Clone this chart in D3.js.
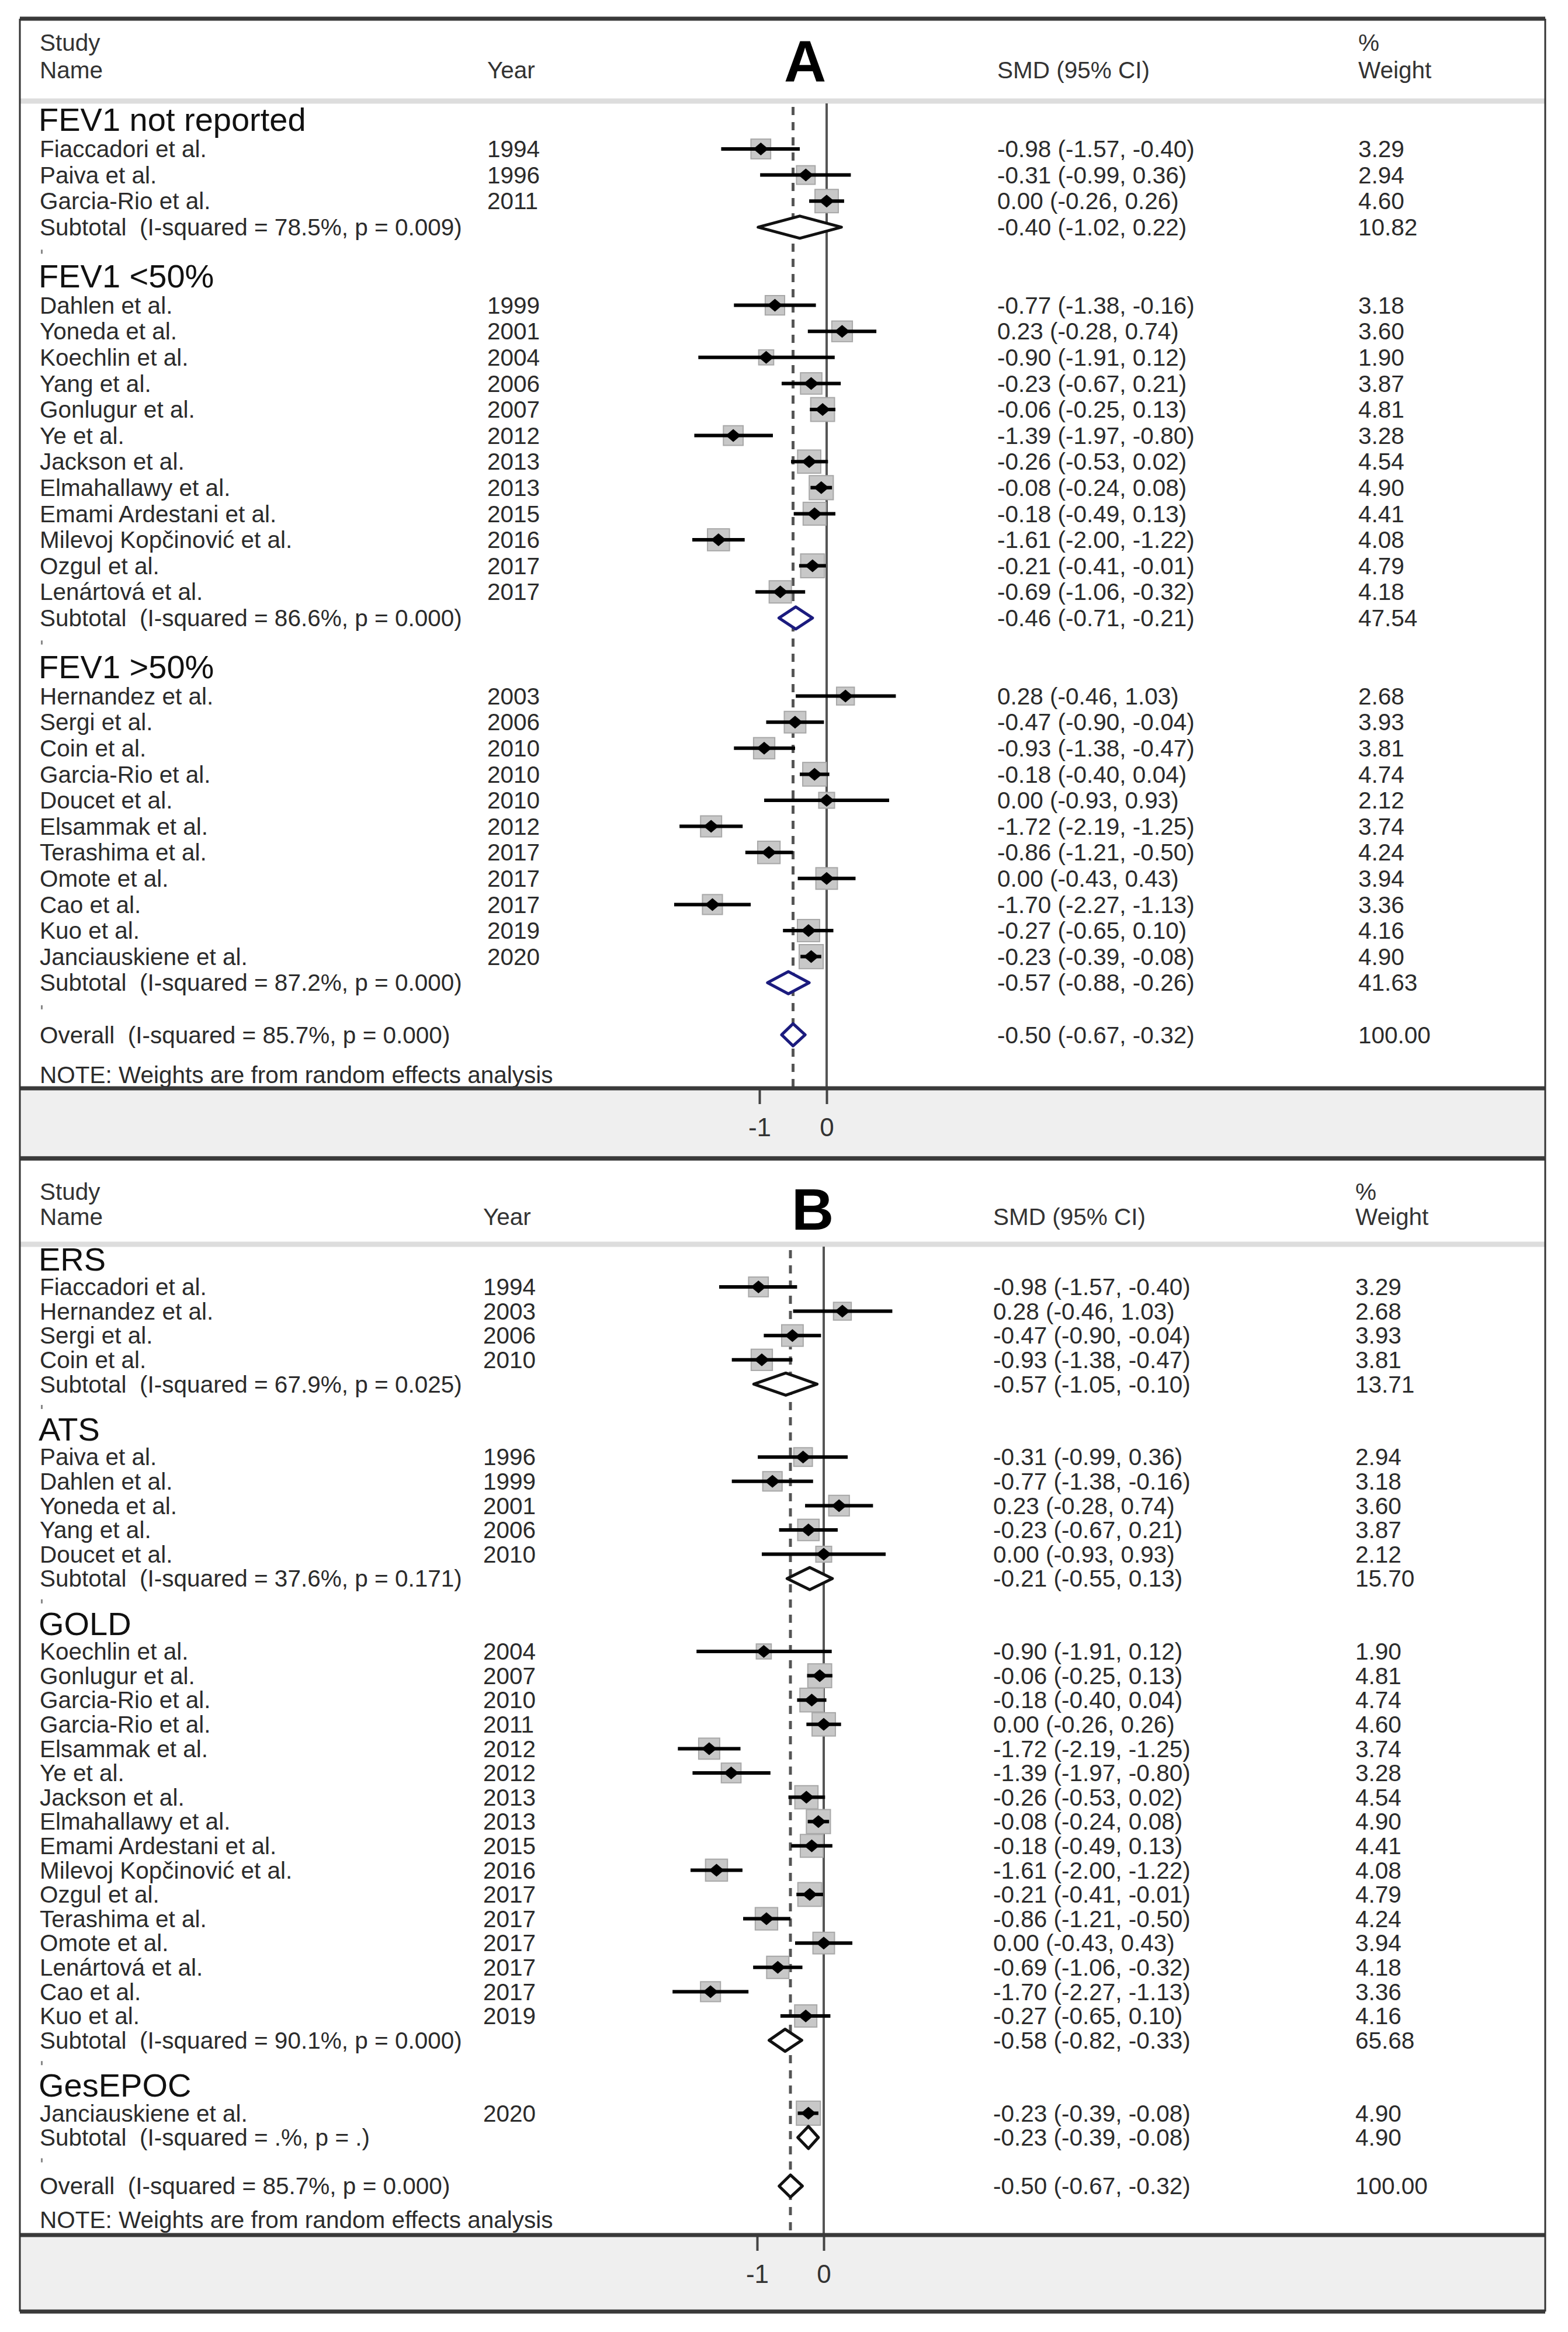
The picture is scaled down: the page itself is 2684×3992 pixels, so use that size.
<!DOCTYPE html>
<html>
<head>
<meta charset="utf-8">
<script src="https://cdn.jsdelivr.net/npm/d3@7"></script>
<style>
  body { margin: 0; background: #fff; }
  text { font-family: "Liberation Sans", Arial, sans-serif; white-space: pre; }
</style>
</head>
<body>
<div id="chart"></div>
<script>
// ---- study level data (SMD, 95% CI, % weight) ----
var studyNames = ["Fiaccadori et al.", "Paiva et al.", "Garcia-Rio et al.", "Dahlen et al.", "Yoneda et al.",
    "Koechlin et al.", "Yang et al.", "Gonlugur et al.", "Ye et al.", "Jackson et al.", "Elmahallawy et al.",
    "Emami Ardestani et al.", "Milevoj Kopčinović et al.", "Ozgul et al.", "Lenártová et al.", "Hernandez et al.",
    "Sergi et al.", "Coin et al.", "Garcia-Rio et al.", "Doucet et al.", "Elsammak et al.", "Terashima et al.",
    "Omote et al.", "Cao et al.", "Kuo et al.", "Janciauskiene et al."];
var studyYears = [1994, 1996, 2011, 1999, 2001, 2004, 2006, 2007, 2012, 2013, 2013, 2015, 2016, 2017, 2017,
    2003, 2006, 2010, 2010, 2010, 2012, 2017, 2017, 2017, 2019, 2020];
var studySMD = [-0.98, -0.31, 0.00, -0.77, 0.23, -0.90, -0.23, -0.06, -1.39, -0.26, -0.08, -0.18, -1.61, -0.21, -0.69,
    0.28, -0.47, -0.93, -0.18, 0.00, -1.72, -0.86, 0.00, -1.70, -0.27, -0.23];
var studyLow = [-1.57, -0.99, -0.26, -1.38, -0.28, -1.91, -0.67, -0.25, -1.97, -0.53, -0.24, -0.49, -2.00, -0.41, -1.06,
    -0.46, -0.90, -1.38, -0.40, -0.93, -2.19, -1.21, -0.43, -2.27, -0.65, -0.39];
var studyHigh = [-0.40, 0.36, 0.26, -0.16, 0.74, 0.12, 0.21, 0.13, -0.80, 0.02, 0.08, 0.13, -1.22, -0.01, -0.32,
    1.03, -0.04, -0.47, 0.04, 0.93, -1.25, -0.50, 0.43, -1.13, 0.10, -0.08];
var studyWeight = [3.29, 2.94, 4.60, 3.18, 3.60, 1.90, 3.87, 4.81, 3.28, 4.54, 4.90, 4.41, 4.08, 4.79, 4.18,
    2.68, 3.93, 3.81, 4.74, 2.12, 3.74, 4.24, 3.94, 3.36, 4.16, 4.90];

// ---- panel A: subgroups by FEV1 ----
var groupsA = ["FEV1 not reported", "FEV1 <50%", "FEV1 >50%"];
var membersA = [[0, 1, 2], [3, 4, 5, 6, 7, 8, 9, 10, 11, 12, 13, 14], [15, 16, 17, 18, 19, 20, 21, 22, 23, 24, 25]];
var subLabelsA = ["Subtotal  (I-squared = 78.5%, p = 0.009)", "Subtotal  (I-squared = 86.6%, p = 0.000)",
    "Subtotal  (I-squared = 87.2%, p = 0.000)"];
var subSMDA = [-0.40, -0.46, -0.57];
var subLowA = [-1.02, -0.71, -0.88];
var subHighA = [0.22, -0.21, -0.26];
var subWeightA = [10.82, 47.54, 41.63];

// ---- panel B: subgroups by definition ----
var groupsB = ["ERS", "ATS", "GOLD", "GesEPOC"];
var membersB = [[0, 15, 16, 17], [1, 3, 4, 6, 19], [5, 7, 18, 2, 20, 8, 9, 10, 11, 12, 13, 21, 22, 14, 23, 24], [25]];
var subLabelsB = ["Subtotal  (I-squared = 67.9%, p = 0.025)", "Subtotal  (I-squared = 37.6%, p = 0.171)",
    "Subtotal  (I-squared = 90.1%, p = 0.000)", "Subtotal  (I-squared = .%, p = .)"];
var subSMDB = [-0.57, -0.21, -0.58, -0.23];
var subLowB = [-1.05, -0.55, -0.82, -0.39];
var subHighB = [-0.10, 0.13, -0.33, -0.08];
var subWeightB = [13.71, 15.70, 65.68, 4.90];

// ---- overall ----
var overallLabel = "Overall  (I-squared = 85.7%, p = 0.000)";
var overallSMD = -0.50, overallLow = -0.67, overallHigh = -0.32, overallWeight = 100.00;
var axisTicks = [-1, 0];
var noteText = "NOTE: Weights are from random effects analysis";

var W = 2684, H = 3992;
var left = 34, right = 2645;
var navy = "#1b1b7e";
var rowFont = 40.5;

var svg = d3.select("#chart").append("svg")
    .attr("width", W)
    .attr("height", H)
    .style("display", "block");

function ciText(m, l, h) {
    return m.toFixed(2) + " (" + l.toFixed(2) + ", " + h.toFixed(2) + ")";
}

function diamond(x, yc, m, l, h, hh) {
    return "M" + x(l) + "," + yc + "L" + x(m) + "," + (yc - hh) + "L" + x(h) + "," + yc +
        "L" + x(m) + "," + (yc + hh) + "Z";
}

function drawPanel(p) {
    var g = svg.append("g");

    // build the row list
    var rows = [];
    var idx = 0;
    p.groups.forEach(function(name, gi) {
        rows.push({type: "head", label: name, i: idx++});
        p.members[gi].forEach(function(s) {
            rows.push({type: "study", s: s, i: idx++});
        });
        rows.push({type: "sub", gi: gi, i: idx++});
        rows.push({type: "blank", i: idx++});
    });
    rows.push({type: "overall", i: idx});

    var x = d3.scaleLinear().domain([-1, 0]).range([p.x0 - p.unit, p.x0]);
    var y = d3.scaleLinear().domain([1, 2]).range([p.y1, p.y1 + p.step]);

    // grey band under the plot
    g.append("rect").attr("x", left).attr("y", p.plotBottom)
        .attr("width", right - left).attr("height", p.bottom - p.plotBottom)
        .attr("fill", "#efefef");

    // header separator
    g.append("line").attr("x1", left).attr("x2", right)
        .attr("y1", p.sep).attr("y2", p.sep)
        .attr("stroke", "#dddddd").attr("stroke-width", 9);

    // header texts
    function htext(t, tx, ty) {
        g.append("text").attr("x", tx).attr("y", ty).attr("dy", "0.35em")
            .attr("font-size", rowFont).attr("fill", "#333").text(t);
    }
    htext("Study", 68, p.h1);
    htext("Name", 68, p.h2);
    htext("Year", p.yearX, p.h2);
    htext("SMD (95% CI)", p.smdX, p.h2);
    htext("%", p.wX, p.h1);
    htext("Weight", p.wX, p.h2);
    g.append("text").attr("x", p.letterX).attr("y", p.letterY)
        .attr("text-anchor", "middle").attr("font-size", 100).attr("font-weight", "bold")
        .attr("fill", "#000").text(p.letter);

    // zero line and overall dashed line
    g.append("line").attr("x1", x(0)).attr("x2", x(0))
        .attr("y1", p.sep + 4).attr("y2", p.plotBottom)
        .attr("stroke", "#555").attr("stroke-width", 4);
    g.append("line").attr("x1", x(overallSMD)).attr("x2", x(overallSMD))
        .attr("y1", p.sep + 10).attr("y2", p.plotBottom)
        .attr("stroke", "#555").attr("stroke-width", 5)
        .attr("stroke-dasharray", "14,12");

    var studies = rows.filter(function(r) { return r.type == "study"; });

    // weight boxes
    g.selectAll("rect.box")
        .data(studies)
        .enter()
        .append("rect")
        .attr("class", "box")
        .attr("x", function(d) { return x(studySMD[d.s]) - 9.3 * Math.sqrt(studyWeight[d.s]); })
        .attr("y", function(d) { return y(d.i) - 9.3 * Math.sqrt(studyWeight[d.s]); })
        .attr("width", function(d) { return 18.6 * Math.sqrt(studyWeight[d.s]); })
        .attr("height", function(d) { return 18.6 * Math.sqrt(studyWeight[d.s]); })
        .attr("fill", "#c8c8c8")
        .attr("stroke", "#a8a8a8")
        .attr("stroke-width", 2);

    // confidence intervals
    g.selectAll("line.ci")
        .data(studies)
        .enter()
        .append("line")
        .attr("class", "ci")
        .attr("x1", function(d) { return x(studyLow[d.s]); })
        .attr("x2", function(d) { return x(studyHigh[d.s]); })
        .attr("y1", function(d) { return y(d.i); })
        .attr("y2", function(d) { return y(d.i); })
        .attr("stroke", "#000")
        .attr("stroke-width", 6);

    // point estimates
    g.selectAll("path.pt")
        .data(studies)
        .enter()
        .append("path")
        .attr("class", "pt")
        .attr("d", function(d) {
            var cx = x(studySMD[d.s]), cy = y(d.i);
            return "M" + (cx - 13) + "," + cy + "L" + cx + "," + (cy - 11) + "L" + (cx + 13) + "," + cy +
                "L" + cx + "," + (cy + 11) + "Z";
        })
        .attr("fill", "#000");

    // subtotal and overall diamonds
    var subs = rows.filter(function(r) { return r.type == "sub"; });
    g.selectAll("path.sub")
        .data(subs)
        .enter()
        .append("path")
        .attr("class", "sub")
        .attr("d", function(d) {
            return diamond(x, y(d.i), p.subSMD[d.gi], p.subLow[d.gi], p.subHigh[d.gi], 19);
        })
        .attr("fill", "#fff")
        .attr("stroke", function(d) { return p.subColors[d.gi]; })
        .attr("stroke-width", 5)
        .attr("stroke-linejoin", "round");

    var ov = rows[rows.length - 1];
    g.append("path")
        .attr("d", diamond(x, y(ov.i), overallSMD, overallLow, overallHigh, 19))
        .attr("fill", "#fff")
        .attr("stroke", p.overallColor)
        .attr("stroke-width", 5)
        .attr("stroke-linejoin", "round");

    // left column text
    rows.forEach(function(r) {
        var ty = y(r.i);
        if (r.type == "head") {
            g.append("text").attr("x", 66).attr("y", ty - 6).attr("dy", "0.35em")
                .attr("font-size", 56).attr("fill", "#111").text(r.label);
            return;
        }
        if (r.type == "blank") {
            // the small stray mark Stata leaves in empty rows
            g.append("rect").attr("x", 70).attr("y", ty - 6).attr("width", 3).attr("height", 7)
                .attr("fill", "#888");
            return;
        }
        var label, yr = "", ci, wt;
        if (r.type == "study") {
            label = studyNames[r.s];
            yr = studyYears[r.s];
            ci = ciText(studySMD[r.s], studyLow[r.s], studyHigh[r.s]);
            wt = studyWeight[r.s].toFixed(2);
        } else if (r.type == "sub") {
            label = p.subLabels[r.gi];
            ci = ciText(p.subSMD[r.gi], p.subLow[r.gi], p.subHigh[r.gi]);
            wt = p.subWeight[r.gi].toFixed(2);
        } else {
            label = overallLabel;
            ci = ciText(overallSMD, overallLow, overallHigh);
            wt = overallWeight.toFixed(2);
        }
        var t = g.append("g").attr("font-size", rowFont).attr("fill", "#2b2b2b");
        t.append("text").attr("x", 68).attr("y", ty).attr("dy", "0.35em").text(label);
        t.append("text").attr("x", p.yearX).attr("y", ty).attr("dy", "0.35em").text(yr);
        t.append("text").attr("x", p.smdX).attr("y", ty).attr("dy", "0.35em").text(ci);
        t.append("text").attr("x", p.wX).attr("y", ty).attr("dy", "0.35em").text(wt);
    });

    g.append("text").attr("x", 68).attr("y", p.noteY).attr("dy", "0.35em")
        .attr("font-size", rowFont).attr("fill", "#2b2b2b").text(noteText);

    // x axis
    var axis = g.append("g")
        .attr("transform", "translate(0," + p.plotBottom + ")")
        .call(d3.axisBottom(x).tickValues(axisTicks).tickSize(27).tickPadding(24)
            .tickFormat(function(d) { return String(d); }));
    axis.select(".domain").remove();
    axis.selectAll(".tick line").attr("stroke", "#444").attr("stroke-width", 4);
    axis.selectAll(".tick text").attr("font-size", 44).attr("fill", "#333")
        .attr("font-family", "Liberation Sans, Arial, sans-serif");

    // frame lines
    [p.top, p.plotBottom, p.bottom].forEach(function(ly) {
        g.append("line").attr("x1", left).attr("x2", right)
            .attr("y1", ly).attr("y2", ly)
            .attr("stroke", "#3a3a3a").attr("stroke-width", 7);
    });
    [left, right].forEach(function(lx) {
        g.append("line").attr("x1", lx).attr("x2", lx)
            .attr("y1", p.top).attr("y2", p.bottom)
            .attr("stroke", "#333").attr("stroke-width", 3);
    });
}

drawPanel({
    groups: groupsA, members: membersA,
    subLabels: subLabelsA, subSMD: subSMDA, subLow: subLowA, subHigh: subHighA, subWeight: subWeightA,
    subColors: ["#111", navy, navy], overallColor: navy,
    top: 32, sep: 173, plotBottom: 1863, bottom: 1983,
    h1: 73, h2: 120, letter: "A", letterX: 1378, letterY: 140,
    x0: 1415, unit: 115, y1: 255, step: 44.6, noteY: 1840,
    yearX: 834, smdX: 1707, wX: 2325
});

drawPanel({
    groups: groupsB, members: membersB,
    subLabels: subLabelsB, subSMD: subSMDB, subLow: subLowB, subHigh: subHighB, subWeight: subWeightB,
    subColors: ["#111", "#111", "#111", "#111"], overallColor: "#111",
    top: 1983, sep: 2130, plotBottom: 3826, bottom: 3957,
    h1: 2040, h2: 2083, letter: "B", letterX: 1391, letterY: 2105,
    x0: 1410, unit: 114, y1: 2203, step: 41.6, noteY: 3800,
    yearX: 827, smdX: 1700, wX: 2320
});
</script>
</body>
</html>
